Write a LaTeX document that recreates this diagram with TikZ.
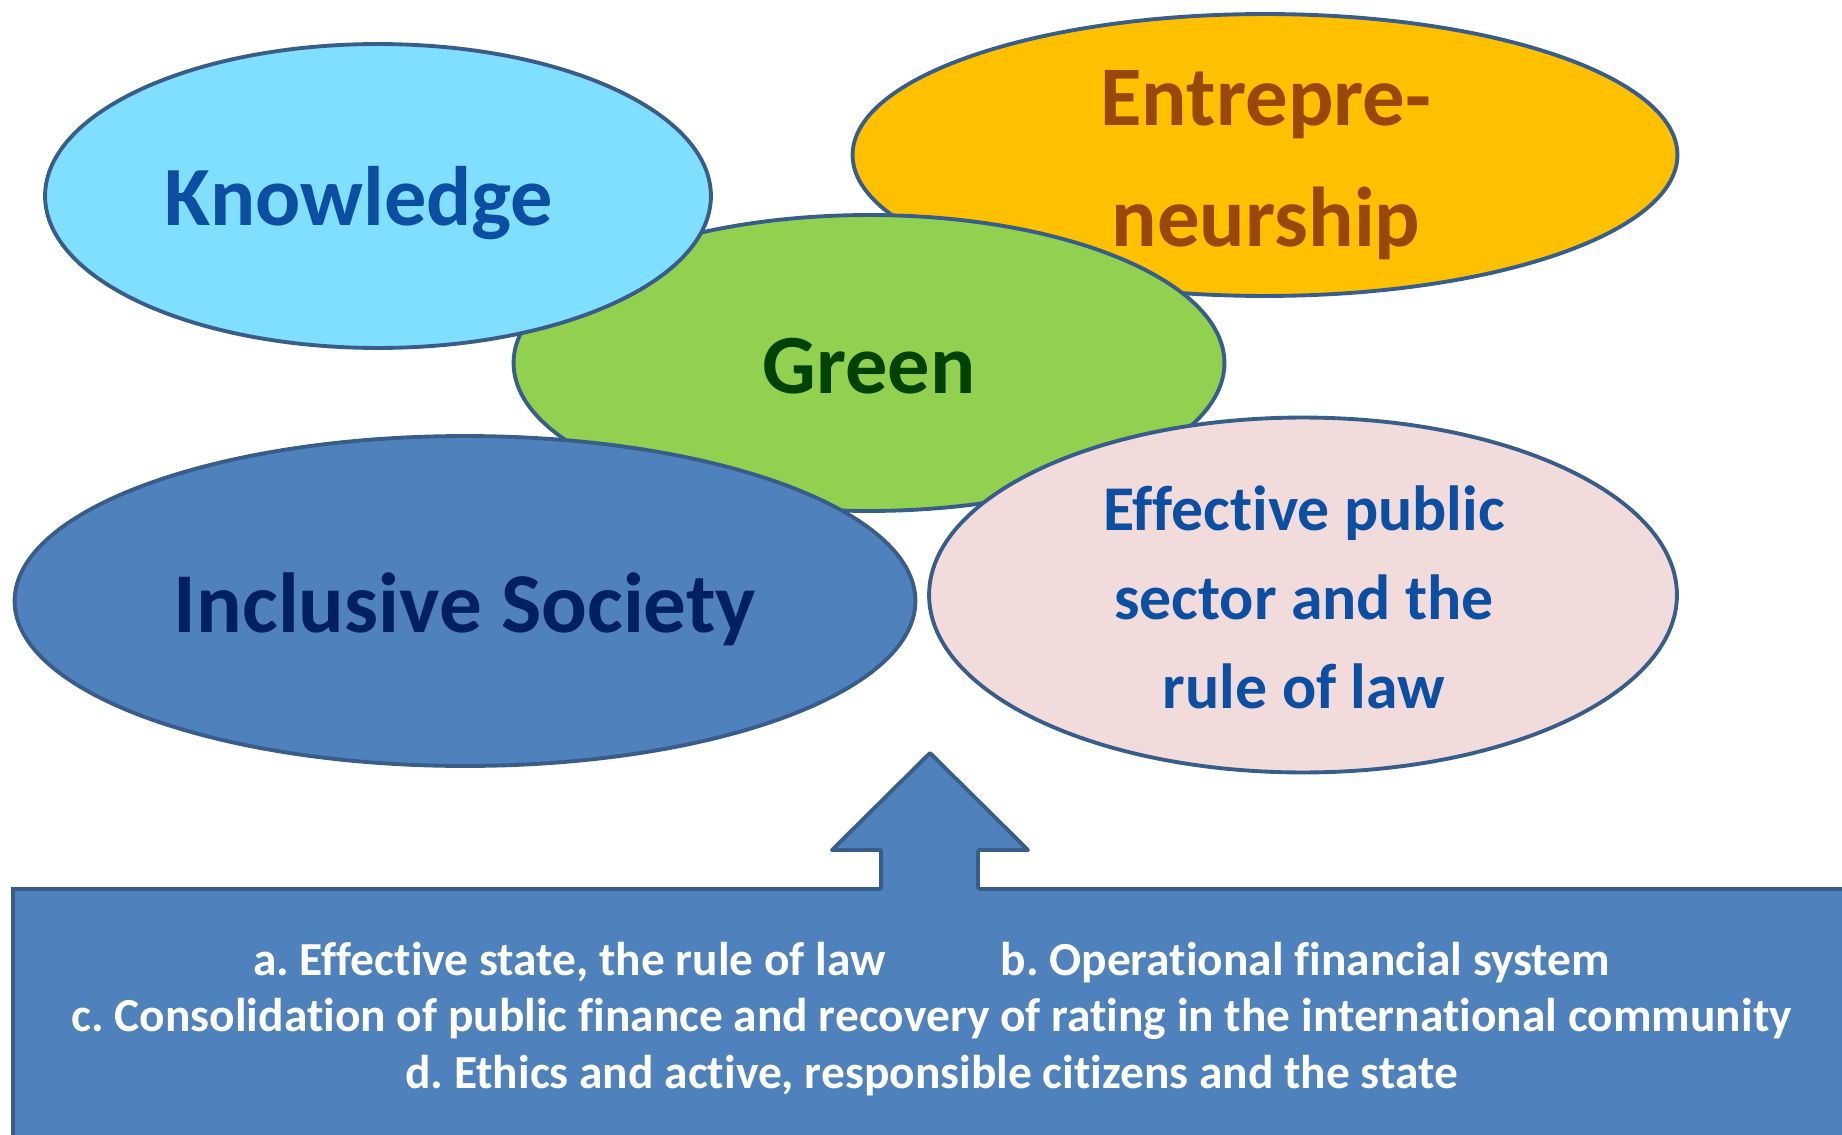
\documentclass[tikz,border=0pt]{standalone}
\usepackage{fontspec}
\setmainfont{Carlito}[Ligatures=NoCommon]
\frenchspacing
\usetikzlibrary{shapes.geometric, positioning, calc}
\definecolor{cline}{HTML}{385D8A}
\definecolor{ccyan}{HTML}{80DFFF}
\definecolor{cnavy}{HTML}{0B4EA2}
\definecolor{corange}{HTML}{FFC000}
\definecolor{cbrown}{HTML}{984807}
\definecolor{cgreen}{HTML}{92D050}
\definecolor{cdkgreen}{HTML}{004200}
\definecolor{cblue}{HTML}{4F81BD}
\definecolor{cdkblue}{HTML}{002060}
\definecolor{cpink}{HTML}{F2DCDB}
\tikzset{
  every picture/.style={font=\bfseries, line width=2.2pt},
  blob/.style={ellipse, draw=cline, fill=#1, inner sep=0pt},
  blob/.default=cblue,
  huge/.style={font=\bfseries\fontsize{48}{58}\selectfont, align=center},
  pillar/.style={draw=cline, fill=cblue, text=white, align=center, inner sep=0pt,
                 font=\bfseries\fontsize{27}{32.3}\selectfont},
}

\begin{document}
\begin{tikzpicture}[x=0.02cm, y=-0.02cm]
  \useasboundingbox (0,0) rectangle (1842,1135);
  \node (entr) [blob=corange, minimum width=16.5cm, minimum height=5.64cm,
    label={[huge, text=cbrown, font=\bfseries\fontsize{48.3}{69}\selectfont, shift={(1,10)}]center:Entrepre-\\neurship}] at (1265,155) {};
  \node (green) [blob=cgreen, minimum width=14.22cm, minimum height=5.92cm,
    label={[huge, text=cdkgreen, shift={(0,3)}]center:Green}] at (869,363) {};
  \node (know) [blob=ccyan, minimum width=13.32cm, minimum height=6.08cm,
    label={[huge, text=cnavy, shift={(-19,7)}]center:Knowledge}] at (378,196) {};
  \node (incl) [blob, minimum width=18.02cm, minimum height=6.6cm,
    label={[huge, text=cdkblue, font=\bfseries\fontsize{48.5}{58}\selectfont, shift={(0,8)}]center:Inclusive Society}] at (465,601) {};
  \node (eff) [blob=cpink, minimum width=14.96cm, minimum height=7.1cm,
    label={[huge, text=cnavy, font=\bfseries\fontsize{36.3}{50.7}\selectfont, shift={(1,2)}]center:Effective public\\sector and the\\rule of law}] at (1303,595) {};
  % foundation box with the arrow on top
  \node (base) [pillar, minimum width=36.74cm, minimum height=5.2cm] at (931.5,1019)
    {a. Effective state, the rule of law\hspace{2.3cm}b. Operational financial system\\
     c. Consolidation of public finance and recovery of rating in the international community\\
     d. Ethics and active, responsible citizens and the state};
  \fill[cblue] (881,892) -- (881,850) -- (832,850) -- (930,753) -- (1028,850) -- (978,850) -- (978,892) -- cycle;
  \draw[cline, line join=round] (881,889) -- (881,850) -- (832,850) -- (930,753) -- (1028,850) -- (978,850) -- (978,889);
\end{tikzpicture}
\end{document}
